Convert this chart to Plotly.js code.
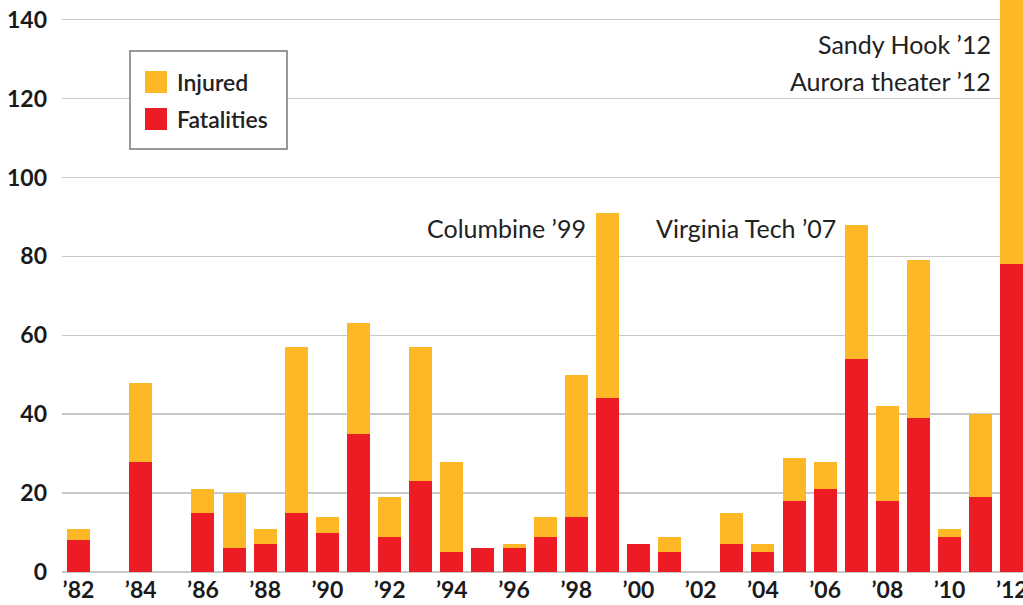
<!DOCTYPE html>
<html>
<head>
<meta charset="utf-8">
<script src="https://cdn.plot.ly/plotly-3.0.1.min.js"></script>
<style>html,body{margin:0;padding:0;background:#fff;}#chart{width:1023px;height:605px;}</style>
</head>
<body>
<div id="chart"></div>
<script>
const years = [1982,1983,1984,1985,1986,1987,1988,1989,1990,1991,1992,1993,1994,1995,1996,1997,1998,1999,2000,2001,2002,2003,2004,2005,2006,2007,2008,2009,2010,2011,2012];
const fatalities = [8,null,28,null,15,6,7,15,10,35,9,23,5,6,6,9,14,44,7,5,null,7,5,18,21,54,18,39,9,19,78];
const injured = [3,null,20,null,6,14,4,42,4,28,10,34,23,0,1,5,36,47,0,4,null,8,2,11,7,34,24,40,2,21,67];
const tickYears = [1982,1984,1986,1988,1990,1992,1994,1996,1998,2000,2002,2004,2006,2008,2010,2012];
const tickLabels = ["’82","’84","’86","’88","’90","’92","’94","’96","’98","’00","’02","’04","’06","’08","’10","’12"];
const yTicks = [0,20,40,60,80,100,120,140];
const seriesNames = ["Fatalities","Injured"];
const notes = ["Columbine ’99","Virginia Tech ’07","Sandy Hook ’12","Aurora theater ’12"];

const RED = "#ED1C24", YEL = "#FDB827";
const W = 1023, H = 605, ML = 62, MR = 0, MT = 0, MB = 33;
const px = x => (x - ML) / (W - ML - MR);
const py = y => (H - MB - y) / (H - MT - MB);
const FONT = "Lato, 'Open Sans', sans-serif";

const traces = [
  {type:"bar", x:years, y:fatalities, name:seriesNames[0], marker:{color:RED}, width:0.74, hoverinfo:"x+y+name"},
  {type:"bar", x:years, y:injured, name:seriesNames[1], marker:{color:YEL}, width:0.74, hoverinfo:"x+y+name"}
];

const shapes = [
  {type:"rect", xref:"paper", yref:"paper", x0:px(130), x1:px(287), y0:py(149), y1:py(51), line:{color:"#777", width:1.5}, fillcolor:"#fff", layer:"above"},
  {type:"rect", xref:"paper", yref:"paper", x0:px(145), x1:px(167), y0:py(93), y1:py(71), line:{width:0}, fillcolor:YEL, layer:"above"},
  {type:"rect", xref:"paper", yref:"paper", x0:px(145), x1:px(167), y0:py(130), y1:py(108), line:{width:0}, fillcolor:RED, layer:"above"}
];

const annFont = {family:FONT, size:25, color:"#222"};
const legFont = {family:FONT, size:23, color:"#222", weight:600};
const annotations = [
  {xref:"paper", yref:"paper", x:px(175), y:py(82), xanchor:"left", yanchor:"middle", text:seriesNames[1], showarrow:false, font:legFont},
  {xref:"paper", yref:"paper", x:px(175), y:py(119), xanchor:"left", yanchor:"middle", text:seriesNames[0], showarrow:false, font:legFont},
  {xref:"paper", yref:"paper", x:px(588), y:py(228), xanchor:"right", yanchor:"middle", text:notes[0], showarrow:false, font:annFont},
  {xref:"paper", yref:"paper", x:px(838), y:py(228), xanchor:"right", yanchor:"middle", text:notes[1], showarrow:false, font:annFont},
  {xref:"paper", yref:"paper", x:px(993), y:py(44), xanchor:"right", yanchor:"middle", text:notes[2], showarrow:false, font:annFont},
  {xref:"paper", yref:"paper", x:px(993), y:py(81), xanchor:"right", yanchor:"middle", text:notes[3], showarrow:false, font:annFont}
];

const tickFont = {family:FONT, size:23, color:"#1a1a1a", weight:700};
const layout = {
  width:W, height:H,
  margin:{l:ML, r:MR, t:MT, b:MB, pad:0},
  paper_bgcolor:"#fff", plot_bgcolor:"#fff",
  barmode:"stack", showlegend:false,
  xaxis:{range:[1981.47, 2012.36], tickvals:tickYears, ticktext:tickLabels, showgrid:false, zeroline:false, showline:false, ticks:"", ticklabelstandoff:2, ticklabeloverflow:"allow",
         tickfont:tickFont},
  yaxis:{range:[0,145], tickvals:yTicks, showgrid:true, gridcolor:"#c8c8c8", gridwidth:1.5, zeroline:true, zerolinecolor:"#c8c8c8", zerolinewidth:1.5, showline:false, ticks:"", ticklabelstandoff:14,
         tickfont:tickFont},
  shapes:shapes, annotations:annotations
};
Plotly.newPlot("chart", traces, layout, {displayModeBar:false, staticPlot:true});
</script>
</body>
</html>
